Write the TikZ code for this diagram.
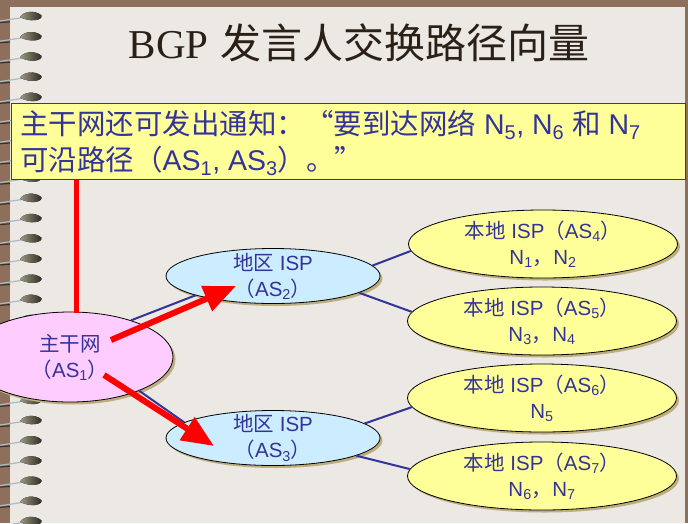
\documentclass[tikz,border=0pt]{standalone}
\usepackage{fontspec}
\setmainfont{Liberation Sans}
\newfontfamily\zh{Noto Sans CJK SC}
\newfontfamily\titleserif{Liberation Serif}
\usetikzlibrary{arrows.meta,shapes.geometric,shadows}

\definecolor{framebrown}{HTML}{8E6F5B}
\definecolor{paper}{HTML}{ECE8E4}
\definecolor{inkblue}{RGB}{51,51,153}
\definecolor{titleink}{HTML}{2B2018}
\definecolor{noteyellow}{HTML}{FFFF99}
\definecolor{corepink}{HTML}{FFCCFF}
\definecolor{regionblue}{HTML}{CCECFF}
\definecolor{shadowtan}{HTML}{BDAE80}
\definecolor{ringdark}{HTML}{2A2820}
\definecolor{ringlight}{HTML}{9C9880}
\definecolor{wirelight}{HTML}{A9BCC4}
\definecolor{wiredark}{HTML}{3A3028}

\begin{document}
\begin{tikzpicture}[x=1pt,y=-1pt,
  isp/.style={ellipse, draw=black, line width=0.8pt, inner sep=-9pt,
    text=inkblue, align=center, font=\fontsize{20.5}{26}\selectfont,
    drop shadow={shadow xshift=2.5pt, shadow yshift=-2.5pt,
      fill=shadowtan, opacity=1}},
  corenet/.style={isp, fill=corepink, minimum width=206pt, minimum height=90pt},
  regional/.style={isp, fill=regionblue, minimum width=214pt, minimum height=55pt},
  localisp/.style={isp, fill=noteyellow, minimum width=269pt, minimum height=68pt},
  link/.style={draw=inkblue, line width=2pt},
  route/.style={draw=red, line width=6pt,
    -{Triangle[length=32pt,width=26pt]}},
  boxtext/.style={text=inkblue, inner sep=0pt,
    font=\fontsize{28.5}{37}\selectfont},
]
\useasboundingbox (0,0) rectangle (688,523);

% notebook cover and page
\fill[framebrown] (0,0) rectangle (688,523);
\fill[paper] (10,7) rectangle (685,523);

% spiral binding
\foreach \k in {0,...,25}{
  \pgfmathsetmacro\ry{15.5+20.2*\k}
  \draw[wiredark, line width=1.2pt] (0,\ry+7) -- (10,\ry+6.3);
  \draw[wirelight, line width=1.2pt] (0,\ry+5.5) -- (23,\ry+2);
  \fill[left color=ringlight, right color=ringdark]
    (20,\ry+1.5) .. controls (23,\ry-4) and (35,\ry-6) .. (41.5,\ry)
    .. controls (42.5,\ry+5) and (30,\ry+7) .. (20,\ry+1.5);
}

% title
\node[anchor=base, text=titleink, inner sep=0pt,
  font=\fontsize{41}{49}\selectfont] (title) at (359,58)
  {{\titleserif BGP} {\zh 发言人交换路径向量}};

% announcement box
\node[draw=inkblue, line width=0.8pt, fill=noteyellow, anchor=north west,
  minimum width=674pt, minimum height=76pt, inner sep=0pt] (box) at (10.5,103) {};
\node[boxtext, anchor=base west] (line1) at (20,134)
  {{\zh 主干网还可发出通知：“要到达网络} N\textsubscript{5}, N\textsubscript{6} {\zh 和} N\textsubscript{7}};
\node[boxtext, anchor=base west] (line2) at (20,170)
  {{\zh 可沿路径（}AS\textsubscript{1}, AS\textsubscript{3}{\zh ）。”}};

% autonomous systems
\node[corenet] (as1) at (70,357)
  {{\zh 主干网}\\{\zh （}AS\textsubscript{1}{\zh ）}};
\node[regional] (as2) at (273,276)
  {{\zh 地区} ISP\\{\zh （}AS\textsubscript{2}{\zh ）}};
\node[regional] (as3) at (273,438)
  {{\zh 地区} ISP\\{\zh （}AS\textsubscript{3}{\zh ）}};
\node[localisp] (as4) at (543,244)
  {{\zh 本地} ISP{\zh （}AS\textsubscript{4}{\zh ）}\\N\textsubscript{1}{\zh ，}N\textsubscript{2}};
\node[localisp] (as5) at (542,321)
  {{\zh 本地} ISP{\zh （}AS\textsubscript{5}{\zh ）}\\N\textsubscript{3}{\zh ，}N\textsubscript{4}};
\node[localisp] (as6) at (542,398)
  {{\zh 本地} ISP{\zh （}AS\textsubscript{6}{\zh ）}\\N\textsubscript{5}};
\node[localisp] (as7) at (542,476)
  {{\zh 本地} ISP{\zh （}AS\textsubscript{7}{\zh ）}\\N\textsubscript{6}{\zh ，}N\textsubscript{7}};

% physical links
\draw[link] (as1.31) -- (as2.194);
\draw[link] (as1.-26) -- (as3.170);
\draw[link] (as2.6) -- (as4.183);
\draw[link] (as2.-11) -- (as5.176);
\draw[link] (as3.9) -- (as6.184);
\draw[link] (as3.-12) -- (as7.177);

% announced path
\coordinate (boxfoot) at (76,179.5);
\coordinate (coretop) at (76,312.5);
\coordinate (a1s) at (111,340);
\coordinate (a1e) at (236,286);
\coordinate (a2s) at (104,375);
\coordinate (a2e) at (214,446);
\draw[red, line width=5pt] (boxfoot) -- (coretop);
\draw[route] (a1s) -- (a1e);
\draw[route] (a2s) -- (a2e);
\end{tikzpicture}
\end{document}
